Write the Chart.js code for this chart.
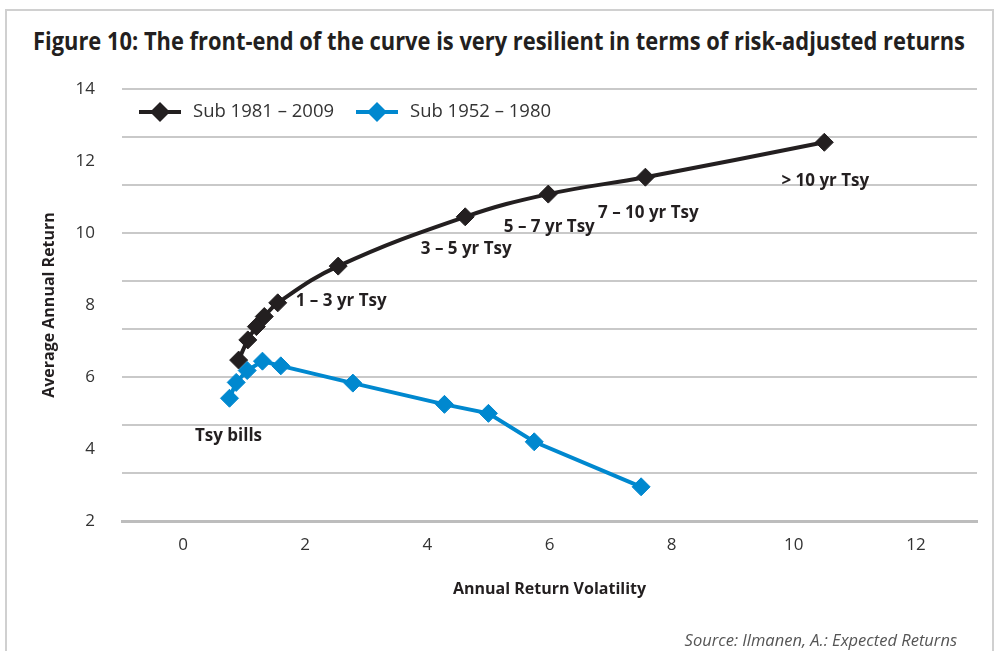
<!DOCTYPE html>
<html>
<head>
<meta charset="utf-8">
<script src="https://cdn.jsdelivr.net/npm/chart.js@4.4.1/dist/chart.umd.min.js"></script>
<style>
  html, body { margin: 0; padding: 0; background: #fff; width: 1003px; height: 651px; overflow: hidden; }
  #frame { position: absolute; left: 5px; top: 9px; width: 989px; height: 720px; border: 2px solid #d0d0d0; box-sizing: border-box; }
  #title { position: absolute; left: 33px; top: 25px; font: bold 25px "Open Sans"; line-height: 30px; color: #231f20; white-space: nowrap; transform-origin: left top; }
  #source { position: absolute; right: 46px; top: 630px; font: italic 16.5px "Open Sans"; line-height: 20px; color: #555; white-space: nowrap; }
  #wrap { position: absolute; left: 0; top: 0; width: 1003px; height: 651px; }
</style>
</head>
<body>
<div id="frame"></div>
<div id="title">Figure 10: The front-end of the curve is very resilient in terms of risk-adjusted returns</div>
<div id="wrap"><canvas id="chart" width="1003" height="651"></canvas></div>
<div id="source">Source: Ilmanen, A.: Expected Returns</div>
<script>
// === DATA ===
const seriesNames = ['Sub 1981 \u2013 2009', 'Sub 1952 \u2013 1980'];

// Sub 1981-2009 (volatility, return)
const recentVol = [0.91, 1.06, 1.20, 1.33, 1.55, 2.54, 4.62, 5.98, 7.57, 10.50];
const recentRet = [6.47, 7.03, 7.40, 7.68, 8.06, 9.08, 10.45, 11.08, 11.55, 12.52];

// Sub 1952-1980 (volatility, return)
const earlyVol = [0.76, 0.87, 1.05, 1.30, 1.60, 2.78, 4.28, 5.00, 5.75, 7.50];
const earlyRet = [5.41, 5.85, 6.18, 6.44, 6.31, 5.83, 5.24, 4.99, 4.20, 2.95];

const tenorLabels = ['Tsy bills', '1 \u2013 3 yr Tsy', '3 \u2013 5 yr Tsy', '5 \u2013 7 yr Tsy', '7 \u2013 10 yr Tsy', '> 10 yr Tsy'];

const xTickValues = [0, 2, 4, 6, 8, 10, 12];
const yTickLabels = [2, 4, 6, 8, 10, 12, 14];
const yGridValues = [2, 10 / 3, 14 / 3, 6, 22 / 3, 26 / 3, 10, 34 / 3, 38 / 3, 14];

// === LAYOUT / STYLE ===
const BLACK = '#231f20';
const BLUE = '#0088cf';
const TEXT = '#333333';

// where each tenor label sits relative to its marker (dataset, point, offsets)
const labelPlacement = [
  { ds: 1, idx: 0, dx: -1, dy: 38, align: 'center' },
  { ds: 0, idx: 4, dx: 18, dy: -2, align: 'left' },
  { ds: 0, idx: 6, dx: 1, dy: 32, align: 'center' },
  { ds: 0, idx: 7, dx: 1, dy: 33, align: 'center' },
  { ds: 0, idx: 8, dx: 3, dy: 36, align: 'center' },
  { ds: 0, idx: 9, dx: 1, dy: 39, align: 'center' }
];

// squeeze title into the condensed width of the original
const titleEl = document.getElementById('title');
const titleW = titleEl.getBoundingClientRect().width;
titleEl.style.transform = 'scaleX(' + (932 / titleW) + ')';

const near = (a, b) => Math.abs(a - b) < 1e-6;

function toPoints(xs, ys) {
  return xs.map((x, i) => ({ x: x, y: ys[i] }));
}

const tenorLabelsPlugin = {
  id: 'tenorLabels',
  afterDatasetsDraw(chart) {
    const ctx = chart.ctx;
    ctx.save();
    ctx.font = 'bold 17px "Open Sans"';
    ctx.fillStyle = BLACK;
    ctx.textBaseline = 'middle';
    labelPlacement.forEach((p, i) => {
      const el = chart.getDatasetMeta(p.ds).data[p.idx];
      if (!el) return;
      ctx.textAlign = p.align;
      ctx.fillText(tenorLabels[i], el.x + p.dx, el.y + p.dy);
    });
    ctx.restore();
  }
};

const insideLegendPlugin = {
  id: 'insideLegend',
  afterDraw(chart) {
    const ctx = chart.ctx;
    const starts = [139, 356];
    const y = 112;
    ctx.save();
    chart.data.datasets.forEach((ds, i) => {
      const x0 = starts[i];
      ctx.strokeStyle = ds.borderColor;
      ctx.lineWidth = 4;
      ctx.beginPath();
      ctx.moveTo(x0, y);
      ctx.lineTo(x0 + 42, y);
      ctx.stroke();
      ctx.fillStyle = ds.borderColor;
      ctx.beginPath();
      ctx.moveTo(x0 + 21 - 10, y);
      ctx.lineTo(x0 + 21, y - 10);
      ctx.lineTo(x0 + 21 + 10, y);
      ctx.lineTo(x0 + 21, y + 10);
      ctx.closePath();
      ctx.fill();
      ctx.font = '18.5px "Open Sans"';
      ctx.fillStyle = TEXT;
      ctx.textAlign = 'left';
      ctx.textBaseline = 'middle';
      ctx.fillText(ds.label, x0 + 54, y);
    });
    ctx.restore();
  }
};

new Chart(document.getElementById('chart'), {
  type: 'line',
  data: {
    datasets: [
      {
        label: seriesNames[0],
        data: toPoints(recentVol, recentRet),
        borderColor: BLACK,
        backgroundColor: BLACK,
        borderWidth: 4,
        tension: 0.4,
        pointStyle: 'rectRot',
        pointRadius: 9,
        pointBorderWidth: 1,
        order: 1
      },
      {
        label: seriesNames[1],
        data: toPoints(earlyVol, earlyRet),
        borderColor: BLUE,
        backgroundColor: BLUE,
        borderWidth: 4,
        tension: 0,
        pointStyle: 'rectRot',
        pointRadius: 9,
        pointBorderWidth: 1,
        order: 0
      }
    ]
  },
  options: {
    responsive: false,
    animation: false,
    layout: { padding: { top: 89, right: 26, left: 0, bottom: 0 } },
    plugins: {
      legend: { display: false },
      tooltip: { enabled: false }
    },
    scales: {
      x: {
        type: 'linear',
        min: -1,
        max: 13,
        afterBuildTicks: s => { s.ticks = xTickValues.map(v => ({ value: v })); },
        afterFit: s => { s.height = 130; },
        grid: { display: false, drawTicks: false },
        border: { display: true, color: '#bdbdbd', width: 3 },
        ticks: { color: TEXT, font: { family: 'Open Sans', size: 17 }, padding: 14, autoSkip: false, maxRotation: 0 },
        title: {
          display: true,
          text: 'Annual Return Volatility',
          color: BLACK,
          font: { family: 'Open Sans', size: 16, weight: 'bold' },
          padding: { top: 0, bottom: 52 }
        }
      },
      y: {
        type: 'linear',
        min: 2,
        max: 14,
        afterBuildTicks: s => {
          const vals = yGridValues.concat(yTickLabels.filter(v => !yGridValues.some(g => near(g, v))));
          vals.sort((a, b) => a - b);
          s.ticks = vals.map(v => ({ value: v }));
        },
        afterFit: s => { s.width = 122; },
        grid: {
          drawTicks: false,
          lineWidth: 2,
          color: c => (c.tick && yGridValues.some(g => near(g, c.tick.value))) ? '#c9c9c9' : 'rgba(0,0,0,0)'
        },
        border: { display: false },
        ticks: {
          color: TEXT,
          font: { family: 'Open Sans', size: 17 },
          padding: 27,
          autoSkip: false,
          callback: v => yTickLabels.some(t => near(t, v)) ? String(v) : ''
        },
        title: {
          display: true,
          text: 'Average Annual Return',
          color: BLACK,
          font: { family: 'Open Sans', size: 16, weight: 'bold' },
          padding: { top: 40, bottom: 0 }
        }
      }
    }
  },
  plugins: [tenorLabelsPlugin, insideLegendPlugin]
});
</script>
</body>
</html>
